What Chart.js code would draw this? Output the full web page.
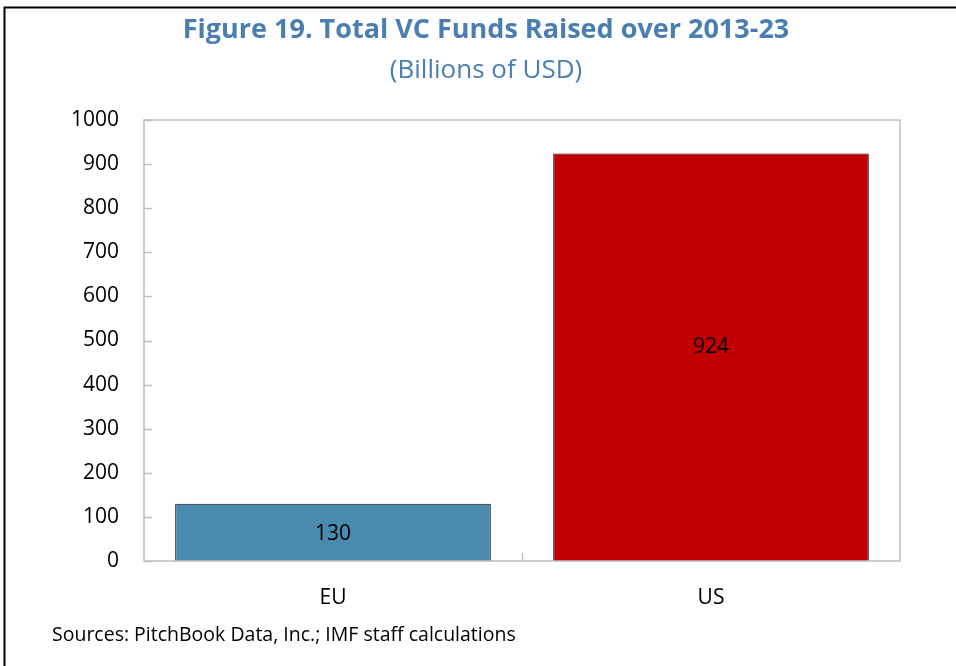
<!DOCTYPE html>
<html>
<head>
<meta charset="utf-8">
<script src="https://cdn.jsdelivr.net/npm/chart.js@4/dist/chart.umd.min.js"></script>
<style>
  html, body { margin: 0; padding: 0; background: #fff; }
  #wrap { width: 956px; height: 666px; position: relative; }
</style>
</head>
<body>
<div id="wrap"><canvas id="c" width="956" height="666"></canvas></div>
<script>
const categories = ["EU", "US"];
const values = [130, 924];
const barColors = ["#4a8aad", "#c00000"];
const yTicks = [0, 100, 200, 300, 400, 500, 600, 700, 800, 900, 1000];
const titleText = "Figure 19. Total VC Funds Raised over 2013-23";
const subtitleText = "(Billions of USD)";
const sourceText = "Sources: PitchBook Data, Inc.; IMF staff calculations";

const FONT = "'Open Sans', 'Noto Sans', sans-serif";
const BLUE = "#4a7eb0";
const GRID = "#bfbfbf";

const decor = {
  id: "decor",
  beforeDraw(chart) {
    const ctx = chart.ctx;
    ctx.save();
    ctx.fillStyle = "#fff";
    ctx.fillRect(0, 0, chart.width, chart.height);
    ctx.restore();
  },
  afterDatasetsDraw(chart) {
    const ctx = chart.ctx;
    const a = chart.chartArea;
    const ys = chart.scales.y;
    const xs = chart.scales.x;
    ctx.save();
    // plot frame
    ctx.strokeStyle = GRID;
    ctx.lineWidth = 1.5;
    ctx.strokeRect(a.left, a.top, a.right - a.left, a.bottom - a.top);
    // inward y ticks
    ctx.beginPath();
    yTicks.forEach(v => {
      const y = Math.round(ys.getPixelForValue(v)) + 0.5;
      ctx.moveTo(a.left, y);
      ctx.lineTo(a.left + 8, y);
    });
    // inward x tick between categories
    for (let i = 0; i < categories.length - 1; i++) {
      const x = Math.round((xs.getPixelForValue(i) + xs.getPixelForValue(i + 1)) / 2) + 0.5;
      ctx.moveTo(x, a.bottom);
      ctx.lineTo(x, a.bottom - 8);
    }
    ctx.stroke();

    // value labels
    const meta = chart.getDatasetMeta(0);
    ctx.fillStyle = "#000";
    ctx.font = "21px " + FONT;
    ctx.textAlign = "center";
    ctx.textBaseline = "middle";
    meta.data.forEach((bar, i) => {
      const y = (bar.y + bar.base) / 2 - (i === 1 ? 10 : -2);
      ctx.fillText(String(values[i]), bar.x, y);
    });

    // titles
    ctx.fillStyle = BLUE;
    ctx.font = "bold 27px " + FONT;
    ctx.fillText(titleText, 486, 30);
    ctx.font = "26px " + FONT;
    ctx.fillText(subtitleText, 486, 71);

    // source
    ctx.fillStyle = "#000";
    ctx.font = "19.5px " + FONT;
    ctx.textAlign = "left";
    ctx.textBaseline = "alphabetic";
    ctx.fillText(sourceText, 52, 641);

    // outer frame (top and left)
    ctx.strokeStyle = "#000";
    ctx.lineWidth = 2;
    ctx.beginPath();
    ctx.moveTo(4.5, chart.height);
    ctx.lineTo(4.5, 7.5);
    ctx.lineTo(chart.width, 7.5);
    ctx.stroke();
    ctx.restore();
  }
};

new Chart(document.getElementById("c"), {
  type: "bar",
  data: {
    labels: categories,
    datasets: [{
      data: values,
      backgroundColor: barColors,
      borderColor: "#111",
      borderWidth: 1,
      borderSkipped: "bottom",
      categoryPercentage: 1,
      barPercentage: 0.835
    }]
  },
  options: {
    responsive: false,
    animation: false,
    devicePixelRatio: 1,
    layout: { padding: { top: 120, left: 0, right: 56, bottom: 25 } },
    plugins: { legend: { display: false }, tooltip: { enabled: false }, title: { display: false } },
    scales: {
      x: {
        grid: { display: false, drawTicks: false },
        border: { display: false },
        ticks: { color: "#000", font: { family: FONT, size: 21 }, padding: 24 },
        afterFit(s) { s.height = 80; }
      },
      y: {
        min: 0, max: 1000,
        grid: { display: false, drawTicks: false },
        border: { display: false },
        afterBuildTicks(s) { s.ticks = yTicks.map(v => ({ value: v })); },
        ticks: { color: "#000", font: { family: FONT, size: 21 }, padding: 25, callback: v => String(v) },
        afterFit(s) { s.width = 144; }
      }
    }
  },
  plugins: [decor]
});
</script>
</body>
</html>
